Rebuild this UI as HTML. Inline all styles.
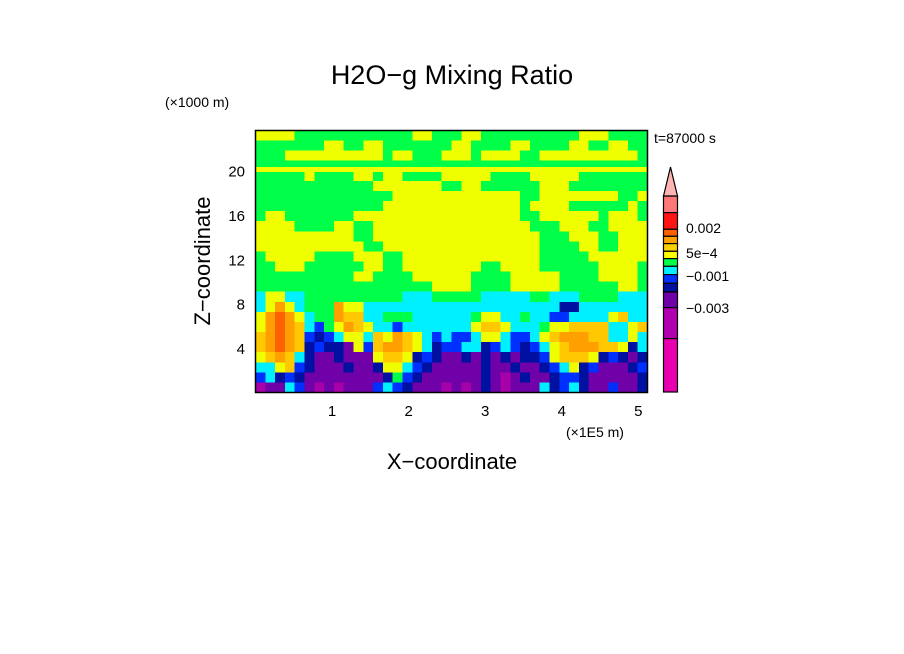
<!DOCTYPE html>
<html><head><meta charset="utf-8"><style>
html,body{margin:0;padding:0;background:#fff;}
svg{display:block;font-family:"Liberation Sans",sans-serif;}
</style></head><body>
<svg id="chart" width="904" height="654" viewBox="0 0 904 654">
<rect width="904" height="654" fill="#fff"/>
<text x="452" y="84" font-size="27" text-anchor="middle">H2O−g Mixing Ratio</text>
<text x="165" y="107" font-size="14">(×1000 m)</text>
<text x="654" y="143" font-size="14">t=87000 s</text>
<text x="566" y="437" font-size="14">(×1E5 m)</text>
<text x="452" y="469" font-size="22" text-anchor="middle">X−coordinate</text>
<text transform="translate(210,261) rotate(-90)" font-size="22" text-anchor="middle">Z−coordinate</text>
<g id="cells" shape-rendering="crispEdges"></g>
<g id="ticks"></g>
<rect x="255.5" y="130.5" width="392" height="262" fill="none" stroke="#000" stroke-width="1.5"/>
<g id="cbar"></g>
</svg>
<script>
const rows = [
"yyyyggggggggggggyygggyyggggggggggyyygggg",
"gggggggyyggyygggggggyyggggyyggggyyggyygg",
"gggyyyyyyyyyygyygggyyygyyyyggyyyyyyyyyyg",
"gggggggggggggggggggggggggggggggggggggggg",
"gggggyggggyygyyggggyyyyyggggyyyyyggggggg",
"ggggggggggggyyyyyyyggyyggggggyyygggggggg",
"ggggggggggggggyyyyyyyyyyyyyggyyyyyyyyggy",
"gggggggggggggyyyyyyyyyyyyyygyyyyggggggyg",
"gyygggggggyyyyyyyyyyyyyyyyyggyyyyyygyyyg",
"yyyyggggyyggyyyyyyyyyyyyyyyygggyyyggyyyy",
"yyyyyyyyyyggyyyyyyyyyyyyyyyyygggyyyggyyy",
"yyyyyyyyyyyggyyyyyyyyyyyyyyyyggggyyggyyy",
"gyyyyyggggyyyggyyyyyyyyyyyyyygggggyyyyyy",
"ggyyyggggggyyggyyyyyyyyggyyyyggggggyyyyg",
"ggggggggggyyggggyyyyyyggggyyyyyggggyyyyg",
"ggggggggggggggggggyyyyggggyyyyyggggggyyg",
"cyyccggggggggggcccgggggcccccggcccggggccc",
"cyoycgggoyyccccccccccccccccccccnnccccccc",
"yoroycggoaaccgggccccccgyyccgccbbccccyacc",
"yoroacbgyoayccbcccccccyaaycccgyyaaaaccya",
"aoroabnbcyycayoaycbcbbcyycbbcyaoooaaccyc",
"aoroanbnnpybaooaycnbbccnbcbnbcyaoooaaync",
"yaoacnppnpppyaaynbnppnpnpnpnnbyaaaynbnpn",
"ccyabnpppnppnyycbnpppppnppnppnbcynbpppnb",
"bcnbnppppppppngbnppppppnpmpnppnbbnpppppn",
"mppcbpmpmpppbcbnpppmpmpnpmpppcnbcnppbppn"
];
const levelKeys = ["m","p","n","b","c","g","y","a","o","r"];
const levelColors = ["#a800a8","#7000a8","#0010a0","#0030ff","#00f0ff","#00ff48","#f0ff00","#ffc800","#ffa000","#ff6000"];
const xTicks = [1,2,3,4,5];
const yTicks = [4,8,12,16,20];
const cbarColors = ["#ff7878","#ff1414","#ff6000","#ffa000","#ffd000","#ffff00","#00ff48","#00f0ff","#0030ff","#0010a0","#7000a8","#b000b0","#e800b0"];
const cbarLabels = ["0.002","5e-4","-0.001","-0.003"];

const NS="http://www.w3.org/2000/svg";
const X0=255.5,X1=647.5,Y0=130.5,Y1=392.5;
const xs=v=>X0+(v/5.12)*(X1-X0);
const ys=v=>Y1-(v/23.6)*(Y1-Y0);
const nC=40,nR=rows.length,cw=(X1-X0)/nC,ch=(Y1-Y0)/nR;
const cells=document.getElementById('cells');
rows.forEach((r,ri)=>{
  for(let ci=0;ci<nC;ci++){
    const k=r[Math.min(ci,r.length-1)];
    const el=document.createElementNS(NS,'rect');
    el.setAttribute('x',X0+ci*cw);el.setAttribute('y',Y0+ri*ch);
    el.setAttribute('width',cw+0.6);el.setAttribute('height',ch+0.6);
    el.setAttribute('fill',levelColors[Math.max(0,levelKeys.indexOf(k))]);
    
    
    cells.appendChild(el);
  }
});
// thin yellow stripe near top
const stripe=document.createElementNS(NS,'rect');
stripe.setAttribute('x',X0);stripe.setAttribute('y',167);stripe.setAttribute('width',X1-X0);stripe.setAttribute('height',5);
stripe.setAttribute('fill','#f0ff00');


cells.appendChild(stripe);
const tk=document.getElementById('ticks');
xTicks.forEach(v=>{
  const t=document.createElementNS(NS,'text');
  t.setAttribute('x',xs(v));t.setAttribute('y',416);t.setAttribute('font-size','15');t.setAttribute('text-anchor','middle');
  t.textContent=v;
  
  
  tk.appendChild(t);
});
yTicks.forEach(v=>{
  const t=document.createElementNS(NS,'text');
  t.setAttribute('x',245);t.setAttribute('y',ys(v)+6);t.setAttribute('font-size','15');t.setAttribute('text-anchor','end');
  t.textContent=v;
  
  
  tk.appendChild(t);
});
const cb=document.getElementById('cbar');
const cbX=663.5,cbW=14,cbTop=196;
const segH=[16.6,16.7,7,7.3,7.7,7.3,7.7,8.3,8.7,8.7,15.6,31,53.4];
let y=cbTop;
cbarColors.forEach((c,i)=>{
  const r=document.createElementNS(NS,'rect');
  r.setAttribute('x',cbX);r.setAttribute('y',y);r.setAttribute('width',cbW);r.setAttribute('height',segH[i]);
  r.setAttribute('fill',c);r.setAttribute('stroke','#000');r.setAttribute('stroke-width','1.2');
  
  
  cb.appendChild(r);y+=segH[i];
});
const tri=document.createElementNS(NS,'polygon');
tri.setAttribute('points',`${cbX},${cbTop} ${cbX+cbW},${cbTop} ${cbX+cbW/2},167`);
tri.setAttribute('fill','#ffb4b4');tri.setAttribute('stroke','#000');tri.setAttribute('stroke-width','1.2');


cb.appendChild(tri);
const labY=[227,252,275,307];
cbarLabels.forEach((l,i)=>{
  const t=document.createElementNS(NS,'text');
  t.setAttribute('x',686);t.setAttribute('y',labY[i]+6);t.setAttribute('font-size','14');
  t.textContent=l.replace('-','−');
  
  
  cb.appendChild(t);
});
</script>
</body></html>
